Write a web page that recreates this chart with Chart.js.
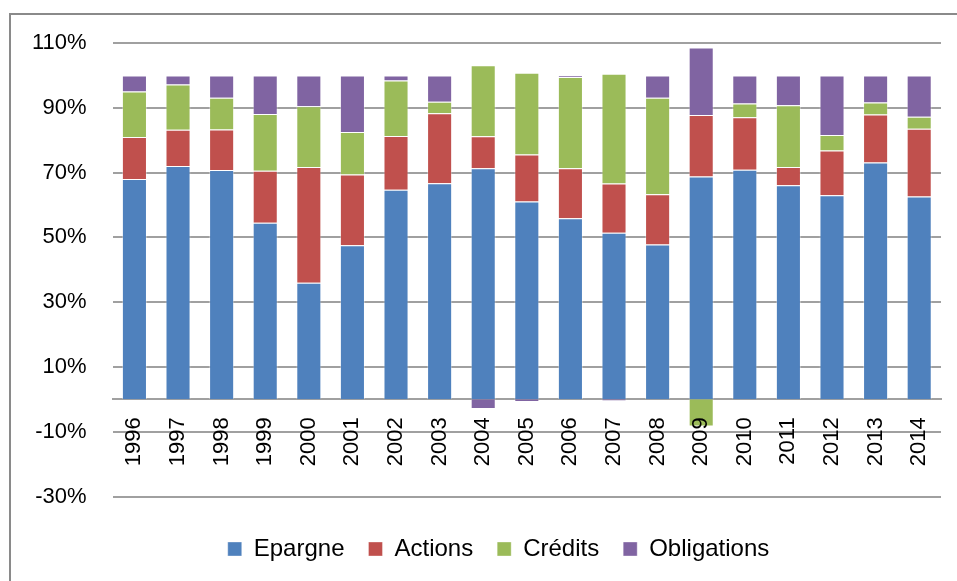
<!DOCTYPE html>
<html>
<head>
<meta charset="utf-8">
<script src="https://cdn.jsdelivr.net/npm/chart.js@4"></script>
<style>
  html, body { margin: 0; padding: 0; background: #fff; overflow: hidden; }
  #frame { position: absolute; left: 9px; top: 13px; width: 1200px; height: 800px;
           border-left: 2px solid #8a8a8a; border-top: 2px solid #8a8a8a; }
  #wrap { position: absolute; left: 0; top: 0; width: 957px; height: 581px; }
</style>
</head>
<body>
<div id="frame"></div>
<div id="wrap"><canvas id="chart"></canvas></div>
<script>
const years = ['1996','1997','1998','1999','2000','2001','2002','2003','2004','2005',
               '2006','2007','2008','2009','2010','2011','2012','2013','2014'];
const epargne = [68.0, 72.0, 70.8, 54.5, 36.0, 47.6, 64.7, 66.7, 71.3, 61.1, 55.9, 51.4, 47.8, 68.8, 70.9, 66.1, 63.0, 73.1, 62.6];
const actions = [13.0, 11.2, 12.5, 16.1, 35.7, 21.8, 16.6, 21.6, 9.9, 14.5, 15.4, 15.2, 15.5, 19.0, 16.2, 5.6, 13.8, 14.8, 20.9];
const credits = [14.0, 14.0, 9.8, 17.5, 18.8, 13.1, 17.1, 3.6, 21.9, 25.2, 28.2, 33.9, 29.8, -8.4, 4.2, 19.1, 4.8, 3.7, 3.7];
const obligations = [5.0, 2.8, 6.9, 11.9, 9.5, 17.5, 1.6, 8.1, -3.0, -0.8, 0.5, -0.5, 6.9, 20.8, 8.7, 9.2, 18.4, 8.4, 12.8];

Chart.defaults.font.family = '"Liberation Sans", Arial, sans-serif';
Chart.defaults.font.size = 22;
Chart.defaults.color = '#000';

// the legend sits a bit right of the page centre in the original
const legendShift = {
  id: 'legendShift',
  afterLayout(chart) {
    chart.legend.left += 25;
    chart.legend.right += 25;
  }
};

const edge = 'rgba(255,255,255,0.35)';
const ctx = document.getElementById('chart').getContext('2d');
const chart = new Chart(ctx, {
  type: 'bar',
  data: {
    labels: years,
    datasets: [
      { label: 'Epargne', data: epargne, backgroundColor: '#4f81bd' },
      { label: 'Actions', data: actions, backgroundColor: '#c0504d' },
      { label: 'Crédits', data: credits, backgroundColor: '#9bbb59' },
      { label: 'Obligations', data: obligations, backgroundColor: '#8064a2' }
    ].map(d => Object.assign(d, { borderColor: edge, borderWidth: 1, barPercentage: 0.575, categoryPercentage: 1 }))
  },
  options: {
    responsive: true,
    maintainAspectRatio: false,
    animation: false,
    layout: { padding: { left: 6, right: 16, top: 43, bottom: 10 } },
    plugins: {
      tooltip: { enabled: false },
      legend: {
        position: 'bottom',
        title: { display: true, text: ' ', font: { size: 10 }, padding: { top: 4.5, bottom: 0 } },
        labels: { boxWidth: 14, boxHeight: 14, padding: 24, font: { size: 24 } }
      }
    },
    scales: {
      x: {
        stacked: true,
        position: { y: 0 },
        z: 1,
        grid: { display: false, drawTicks: false },
        border: { display: true, color: '#a0a0a0', width: 2 },
        ticks: { minRotation: 90, maxRotation: 90, padding: 18, autoSkip: false, z: 1 },
        afterFit: function(scale) { scale.paddingRight = 0; }
      },
      y: {
        stacked: true,
        min: -30,
        max: 110,
        grid: { color: '#a0a0a0', lineWidth: 2, drawTicks: false },
        border: { display: false },
        ticks: {
          stepSize: 20,
          padding: 26,
          callback: function(value) { return value + '%'; }
        }
      }
    }
  },
  plugins: [legendShift]
});
</script>
</body>
</html>
